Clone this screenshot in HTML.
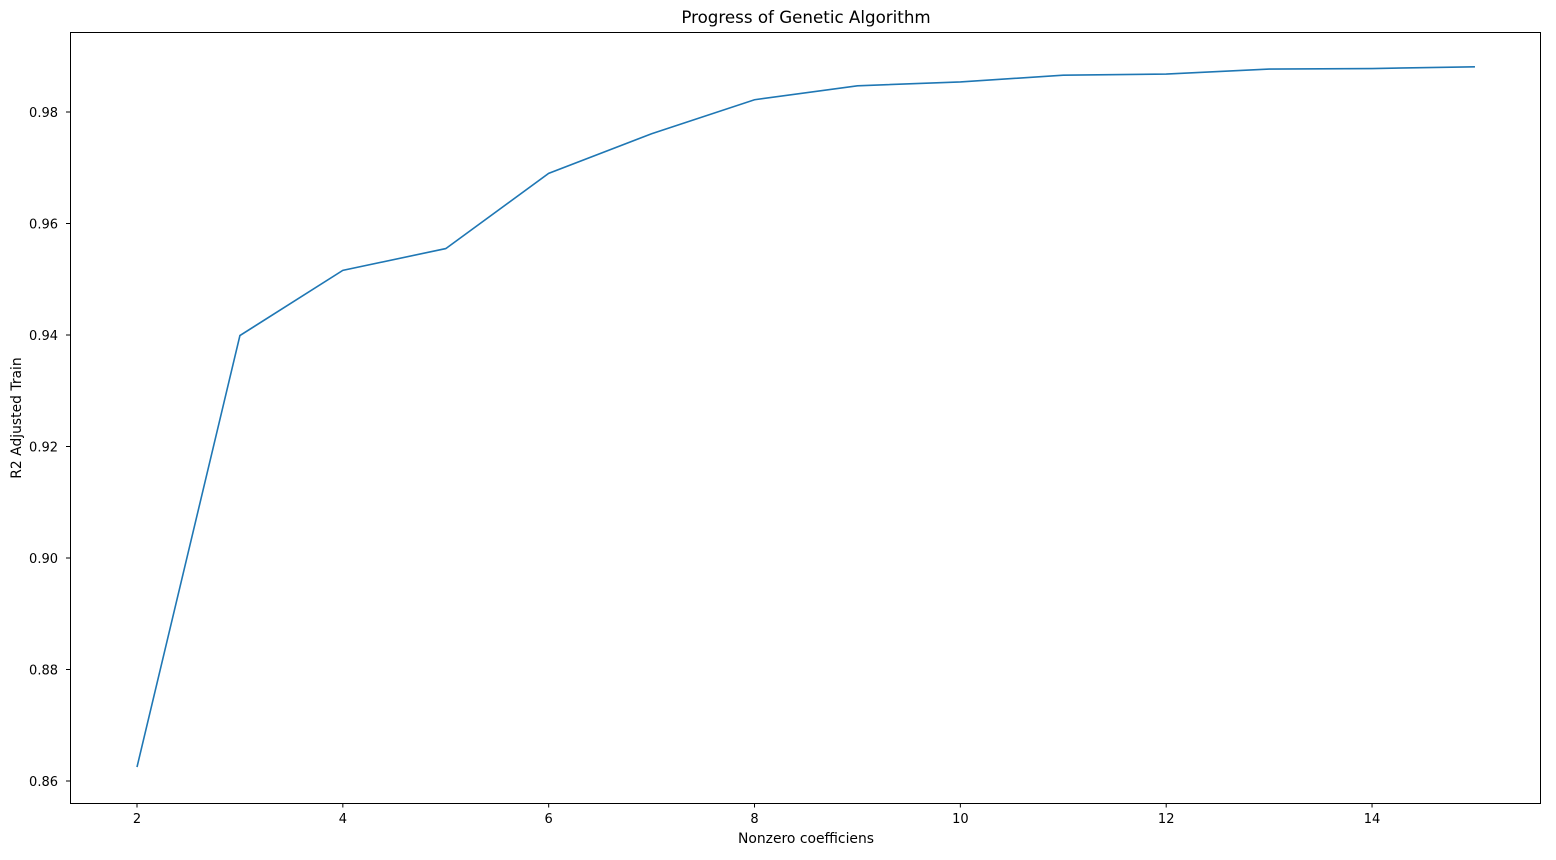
<!DOCTYPE html>
<html><head><meta charset="utf-8"><style>
html,body{margin:0;padding:0;background:#fff;}
svg text{font-family:"DejaVu Sans","Liberation Sans",sans-serif;fill:#000;}
</style></head><body>
<svg id="chart" width="1556" height="855" xmlns="http://www.w3.org/2000/svg">
<rect width="1556" height="855" fill="#fff"/>
<text x="806" y="23" font-size="16.7" text-anchor="middle">Progress of Genetic Algorithm</text>
<g id="xt"></g><g id="yt"></g>
<polyline id="line" fill="none" stroke="#1f77b4" stroke-width="1.6"/>
<rect x="70.5" y="32.5" width="1470" height="771" fill="none" stroke="#000" stroke-width="1"/>
<text x="806" y="843" font-size="13.9" text-anchor="middle">Nonzero coefficiens</text>
<text x="21" y="418" font-size="13.9" text-anchor="middle" transform="rotate(-90 21 418)">R2 Adjusted Train</text>
</svg>
<script>
const xValues=[2,3,4,5,6,7,8,9,10,11,12,13,14,15];
const r2Values=[0.8625,0.9399,0.9516,0.9555,0.9690,0.9761,0.9822,0.9847,0.9854,0.9866,0.9868,0.9877,0.9878,0.9881];
const xTicks=[2,4,6,8,10,12,14];
const yTicks=[0.86,0.88,0.90,0.92,0.94,0.96,0.98];
function sx(v){return 137+(v-2)*102.92;}
function sy(v){return 781-(v-0.86)*5575;}
const NS="http://www.w3.org/2000/svg";
const xt=document.getElementById('xt'),yt=document.getElementById('yt');
xTicks.forEach(t=>{
 const l=document.createElementNS(NS,'line');
 l.setAttribute('x1',sx(t));l.setAttribute('x2',sx(t));l.setAttribute('y1',803.5);l.setAttribute('y2',807.5);l.setAttribute('stroke','#000');
 
 
 xt.appendChild(l);
 const tx=document.createElementNS(NS,'text');
 tx.setAttribute('x',sx(t));tx.setAttribute('y',823);tx.setAttribute('font-size','13');tx.setAttribute('text-anchor','middle');tx.textContent=t;
 
 
 xt.appendChild(tx);
});
yTicks.forEach(t=>{
 const l=document.createElementNS(NS,'line');
 l.setAttribute('x1',66);l.setAttribute('x2',70.5);l.setAttribute('y1',sy(t));l.setAttribute('y2',sy(t));l.setAttribute('stroke','#000');
 
 
 yt.appendChild(l);
 const tx=document.createElementNS(NS,'text');
 tx.setAttribute('x',58);tx.setAttribute('y',sy(t)+5);tx.setAttribute('font-size','13');tx.setAttribute('text-anchor','end');tx.textContent=t.toFixed(2);
 
 
 yt.appendChild(tx);
});
document.getElementById('line').setAttribute('points',xValues.map((x,i)=>sx(x)+','+sy(r2Values[i])).join(' '));
</script>
</body></html>
